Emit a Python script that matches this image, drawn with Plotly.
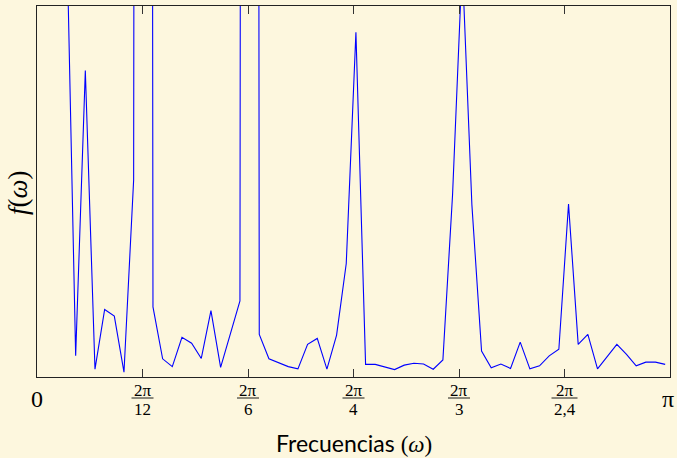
import numpy as np
import plotly.graph_objects as go

# ---------------- data ----------------
n_obs = 131
harmonics = list(range(1, 66))
spectrum = [
    60, 32, 12.94, 0.57, 8.26, 0.21, 1.82, 1.64, 0.13, 5.31,
    220, 1.89, 0.49, 0.28, 1.07, 0.91, 0.50, 1.79, 0.26, 1.16,
    2.05, 240, 1.15, 0.49, 0.39, 0.28, 0.22, 0.88, 1.04, 0.21,
    1.13, 3.06, 9.29, 0.34, 0.34, 0.27, 0.20, 0.32, 0.37, 0.35,
    0.21, 0.46, 4.91, 11.16, 4.64, 0.70, 0.25, 0.35, 0.23, 0.94,
    0.22, 0.30, 0.57, 0.75, 4.66, 0.88, 1.15, 0.22, 0.55, 0.88,
    0.61, 0.30, 0.40, 0.40, 0.34,
]
tick_periods = [12, 6, 4, 3, 2.4]
tick_numerators = ["2π", "2π", "2π", "2π", "2π"]
tick_denominators = ["12", "6", "4", "3", "2,4"]
end_ticks = [0, np.pi]
end_labels = ["0", "π"]

omega = [2 * np.pi * j / n_obs for j in harmonics]
frac_ticks = [2 * np.pi / p for p in tick_periods]

BG = "#FDF7DE"
SERIF = "Liberation Serif"

fig = go.Figure()
fig.add_trace(go.Scatter(x=omega, y=spectrum, mode="lines",
                         line=dict(color="#0000FF", width=1.1),
                         showlegend=False, hoverinfo="skip"))

annotations = []
shapes = []
for xv, num, den in zip(frac_ticks, tick_numerators, tick_denominators):
    annotations.append(dict(x=xv, y=0, xref="x", yref="paper", text=num,
                            showarrow=False, xanchor="center", yanchor="middle",
                            yshift=-13, font=dict(family=SERIF, size=17, color="black")))
    annotations.append(dict(x=xv, y=0, xref="x", yref="paper", text=den,
                            showarrow=False, xanchor="center", yanchor="middle",
                            yshift=-32, font=dict(family=SERIF, size=17, color="black")))
    half = 13 if len(den) > 2 else 11
    shapes.append(dict(type="line", xref="x", yref="paper",
                       xsizemode="pixel", xanchor=xv, x0=-half, x1=half,
                       ysizemode="pixel", yanchor=0, y0=-21, y1=-21,
                       line=dict(color="black", width=0.9)))
for xv, lab, xs in zip(end_ticks, end_labels, [0, -2]):
    annotations.append(dict(x=xv, y=0, xref="x", yref="paper", text=lab,
                            showarrow=False, xanchor="center", yanchor="middle",
                            yshift=-22, xshift=xs,
                            font=dict(family=SERIF, size=24, color="black")))

annotations.append(dict(x=0.5, y=0, xref="paper", yref="paper",
                        text="Frecuencias <span style='font-family:Liberation Serif'>(<i>ω</i>)</span>",
                        showarrow=False, xanchor="center", yanchor="middle", yshift=-66,
                        font=dict(family="Lato", size=23, color="black")))
annotations.append(dict(x=0, y=0.496, xref="paper", yref="paper",
                        text="<i>f</i>(<i>ω</i>)", textangle=-90,
                        showarrow=False, xanchor="center", yanchor="middle", xshift=-19,
                        font=dict(family=SERIF, size=27, color="black")))

fig.update_layout(
    width=677, height=458,
    margin=dict(l=37, r=7, t=6, b=81),
    paper_bgcolor=BG, plot_bgcolor=BG,
    annotations=annotations, shapes=shapes,
    xaxis=dict(range=[0, np.pi], tickvals=end_ticks[:1] + frac_ticks + end_ticks[1:],
               showticklabels=False, ticks="inside", ticklen=8, tickwidth=1,
               tickcolor="#333", showgrid=False, zeroline=False,
               showline=True, linecolor="#222", linewidth=1.3, mirror="allticks"),
    yaxis=dict(range=[0, 10], showticklabels=False, ticks="", showgrid=False,
               zeroline=False, showline=True, linecolor="#222", linewidth=1.3,
               mirror=True),
)

fig.write_html("out.html")
